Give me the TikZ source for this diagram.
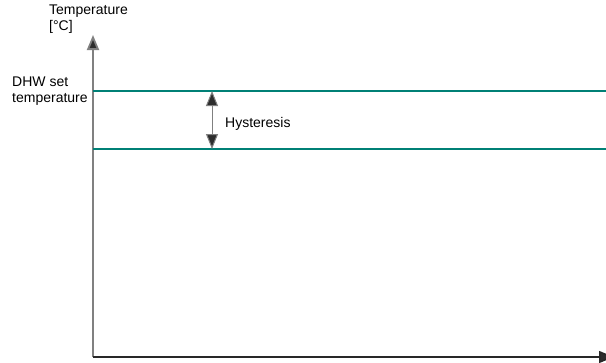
\documentclass[tikz,border=0pt]{standalone}
\usepackage{fontspec}
\setmainfont{Liberation Sans}
\usetikzlibrary{arrows.meta}
\definecolor{axisgray}{RGB}{128,128,128}
\definecolor{axisdark}{RGB}{40,40,40}
\definecolor{limitteal}{RGB}{0,128,118}
\definecolor{tipdark}{RGB}{45,45,45}
\tikzset{
  axisline/.style={
    line width=1.8pt,
    -{Triangle[length=15pt,width=12pt,fill=tipdark]}
  },
  limitline/.style={
    draw=limitteal,
    line width=1.8pt
  },
  hystarrow/.style={
    {Triangle[length=15pt,width=12pt,fill=tipdark]}-{Triangle[length=15pt,width=12pt,fill=tipdark]},
    draw=axisgray,
    line width=1pt
  },
  axislabel/.style={
    align=left,
    anchor=north west,
    inner sep=0pt,
    font=\fontsize{14}{15.5}\selectfont
  }
}

\begin{document}
\begin{tikzpicture}[x=1pt,y=-1pt]
\useasboundingbox (0,0) rectangle (606,362);
% axes
\coordinate (origin) at (93,357);
\coordinate (ytop) at (93,35);
\coordinate (xend) at (614,357);
\draw[axisline, draw=axisgray] (origin) -- (ytop);
\draw[axisline, draw=axisdark, line width=1.5pt] (origin) -- (xend);
% set temperature band
\coordinate (upperleft) at (93,91);
\coordinate (upperright) at (606,91);
\coordinate (lowerleft) at (93,149);
\coordinate (lowerright) at (606,149);
\draw[limitline] (upperleft) -- (upperright);
\draw[limitline] (lowerleft) -- (lowerright);
\coordinate (hysttop) at (212,91);
\coordinate (hystbot) at (212,149);
\draw[hystarrow] (hysttop) -- (hystbot);
% labels
\node[axislabel] (ylabel) at (49,5) {Temperature\\{}[°C]};
\node[axislabel] (setlabel) at (12,77) {DHW set\\temperature};
\node[axislabel, anchor=base west] (hystlabel) at (225,127) {Hysteresis};
\end{tikzpicture}
\end{document}
